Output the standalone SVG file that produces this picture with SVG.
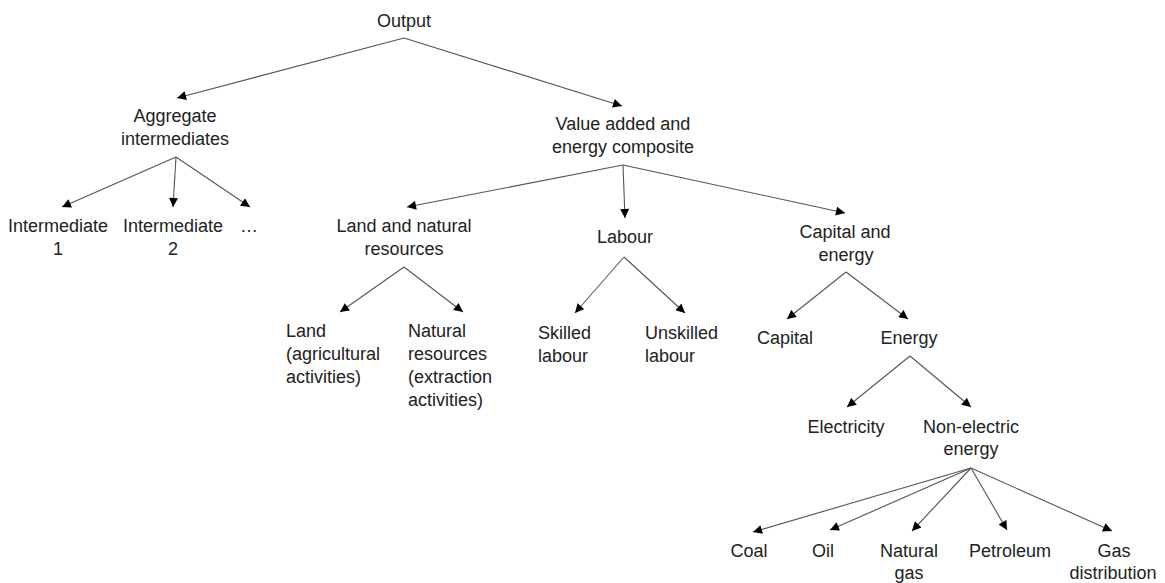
<svg xmlns="http://www.w3.org/2000/svg" width="1165" height="583" viewBox="0 0 1165 583">
  <style>
    text { font-family: "Liberation Sans", Arial, sans-serif; font-size: 18px; fill: #222; }
    .c { text-anchor: middle; }
    .l { text-anchor: start; }
    .edge { stroke: #555; stroke-width: 1.1; fill: none; marker-end: url(#arrow); }
  </style>
  <defs>
    <marker id="arrow" viewBox="0 0 10 10" refX="10" refY="5" markerWidth="10" markerHeight="9" markerUnits="userSpaceOnUse" orient="auto">
      <path d="M0,0 L10,5 L0,10 z" fill="#000"/>
    </marker>
  </defs>
  <rect width="1165" height="583" fill="#fff"/>

  <g id="connectors">
    <line class="edge" x1="404" y1="38" x2="177" y2="98"/>
    <line class="edge" x1="404" y1="38" x2="622" y2="106"/>
    <line class="edge" x1="176" y1="157" x2="62" y2="207"/>
    <line class="edge" x1="176" y1="157" x2="173" y2="207"/>
    <line class="edge" x1="176" y1="157" x2="250" y2="207"/>
    <line class="edge" x1="623" y1="165" x2="407" y2="207"/>
    <line class="edge" x1="623" y1="165" x2="625" y2="218"/>
    <line class="edge" x1="623" y1="165" x2="845" y2="213"/>
    <line class="edge" x1="404" y1="267" x2="340" y2="312"/>
    <line class="edge" x1="404" y1="267" x2="463" y2="312"/>
    <line class="edge" x1="624" y1="257" x2="575" y2="313"/>
    <line class="edge" x1="624" y1="257" x2="685" y2="313"/>
    <line class="edge" x1="846" y1="272" x2="787" y2="319"/>
    <line class="edge" x1="846" y1="272" x2="908" y2="319"/>
    <line class="edge" x1="910" y1="356" x2="847" y2="407"/>
    <line class="edge" x1="910" y1="356" x2="971" y2="407"/>
    <line class="edge" x1="971" y1="468" x2="753" y2="532"/>
    <line class="edge" x1="971" y1="468" x2="830" y2="530"/>
    <line class="edge" x1="971" y1="468" x2="912" y2="531"/>
    <line class="edge" x1="971" y1="468" x2="1007" y2="530"/>
    <line class="edge" x1="971" y1="468" x2="1112" y2="531"/>
  </g>

  <g id="output"><text class="c" x="404" y="27">Output</text></g>
  <g id="aggregate-intermediates">
    <text class="c" x="175" y="122">Aggregate</text>
    <text class="c" x="175" y="145">intermediates</text>
  </g>
  <g id="value-added-energy">
    <text class="c" x="623" y="130">Value added and</text>
    <text class="c" x="623" y="153">energy composite</text>
  </g>
  <g id="intermediate-1">
    <text class="c" x="58" y="232">Intermediate</text>
    <text class="c" x="58" y="255">1</text>
  </g>
  <g id="intermediate-2">
    <text class="c" x="173" y="232">Intermediate</text>
    <text class="c" x="173" y="255">2</text>
  </g>
  <g id="ellipsis"><text class="c" x="249" y="232">…</text></g>
  <g id="land-natural">
    <text class="c" x="404" y="232">Land and natural</text>
    <text class="c" x="404" y="255">resources</text>
  </g>
  <g id="labour"><text class="c" x="625" y="243">Labour</text></g>
  <g id="capital-energy">
    <text class="c" x="845" y="238">Capital and</text>
    <text class="c" x="846" y="261">energy</text>
  </g>
  <g id="land">
    <text class="l" x="286" y="337">Land</text>
    <text class="l" x="286" y="360">(agricultural</text>
    <text class="l" x="286" y="383">activities)</text>
  </g>
  <g id="natural-resources">
    <text class="l" x="408" y="337">Natural</text>
    <text class="l" x="408" y="360">resources</text>
    <text class="l" x="408" y="383">(extraction</text>
    <text class="l" x="408" y="406">activities)</text>
  </g>
  <g id="skilled">
    <text class="l" x="538" y="339">Skilled</text>
    <text class="l" x="538" y="362">labour</text>
  </g>
  <g id="unskilled">
    <text class="l" x="645" y="339">Unskilled</text>
    <text class="l" x="645" y="362">labour</text>
  </g>
  <g id="capital"><text class="c" x="785" y="344">Capital</text></g>
  <g id="energy"><text class="c" x="909" y="344">Energy</text></g>
  <g id="electricity"><text class="c" x="846" y="433">Electricity</text></g>
  <g id="non-electric">
    <text class="c" x="971" y="433">Non-electric</text>
    <text class="c" x="971" y="455">energy</text>
  </g>
  <g id="coal"><text class="c" x="749" y="557">Coal</text></g>
  <g id="oil"><text class="c" x="823" y="557">Oil</text></g>
  <g id="natural-gas">
    <text class="c" x="909" y="557">Natural</text>
    <text class="c" x="909" y="579">gas</text>
  </g>
  <g id="petroleum"><text class="c" x="1010" y="557">Petroleum</text></g>
  <g id="gas-distribution">
    <text class="c" x="1114" y="557">Gas</text>
    <text class="c" x="1113" y="579">distribution</text>
  </g>
</svg>
